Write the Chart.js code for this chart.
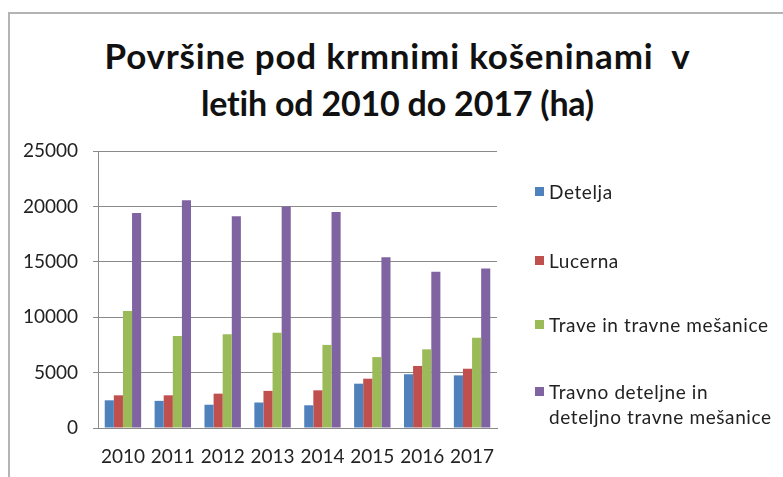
<!DOCTYPE html>
<html>
<head>
<meta charset="utf-8">
<script src="https://cdn.jsdelivr.net/npm/chart.js@4.4.1/dist/chart.umd.min.js"></script>
<style>
  html, body { margin: 0; padding: 0; background: #fff; }
  #wrap { position: relative; width: 783px; height: 477px; overflow: hidden; font-family: Lato, "Open Sans", sans-serif; font-variant-ligatures: none; }
  #frame { position: absolute; left: 8px; top: 12px; width: 800px; height: 500px; border-left: 2px solid #b4b4b4; border-top: 2px solid #b4b4b4; }
  .tl { position: absolute; left: 12px; right: 0; text-align: center; font-weight: bold; line-height: 50px; color: #111; white-space: pre; }
  #t1 { top: 30px; font-size: 35px; letter-spacing: 0.8px; }
  #t2 { top: 78px; font-size: 34px; letter-spacing: -0.2px; }
  #c { position: absolute; left: 0; top: 0; }
  #legend { position: absolute; left: 535px; top: 0; color: #222; font-size: 19px; letter-spacing: 0.6px; }
  .item { position: absolute; left: 0; white-space: pre; display: flex; align-items: flex-start; line-height: 25px; }
  .sw { width: 9px; height: 9px; margin-top: 8px; margin-right: 5px; flex: none; }
</style>
</head>
<body>
<div id="wrap">
  <div id="frame"></div>
  <div id="t1" class="tl"></div>
  <div id="t2" class="tl"></div>
  <canvas id="c" width="783" height="477"></canvas>
  <div id="legend"></div>
</div>
<script>
const titleLines = ["Površine pod krmnimi košeninami  v", "letih od 2010 do 2017 (ha)"];
const categories = ["2010", "2011", "2012", "2013", "2014", "2015", "2016", "2017"];
const seriesNames = ["Detelja", "Lucerna", "Trave in travne mešanice", "Travno deteljne in\ndeteljno travne mešanice"];
const detelja = [2500, 2450, 2100, 2300, 2050, 4000, 4850, 4750];
const lucerna = [2950, 2950, 3100, 3350, 3400, 4450, 5600, 5350];
const trave = [10550, 8300, 8450, 8600, 7500, 6400, 7100, 8150];
const travnoDeteljne = [19400, 20550, 19100, 20000, 19500, 15400, 14100, 14400];
const yTicks = [0, 5000, 10000, 15000, 20000, 25000];
const colors = ["#4F81BD", "#C0504D", "#9BBB59", "#8064A2"];
const legendTops = [179, 248, 312, 379];

document.getElementById('t1').textContent = titleLines[0];
document.getElementById('t2').textContent = titleLines[1];

const seriesData = [detelja, lucerna, trave, travnoDeteljne];
const lg = document.getElementById('legend');
seriesNames.forEach((n, i) => {
  const d = document.createElement('div');
  d.className = 'item';
  d.style.top = legendTops[i] + 'px';
  const s = document.createElement('span');
  s.className = 'sw';
  s.style.background = colors[i];
  const t = document.createElement('span');
  t.textContent = n;
  d.appendChild(s); d.appendChild(t);
  lg.appendChild(d);
});

new Chart(document.getElementById('c'), {
  type: 'bar',
  data: {
    labels: categories,
    datasets: seriesNames.map((n, i) => ({
      label: n,
      data: seriesData[i],
      backgroundColor: colors[i],
      borderWidth: 0,
      categoryPercentage: 0.73,
      barPercentage: 1.0
    }))
  },
  options: {
    responsive: false,
    animation: false,
    layout: { padding: { left: 0, right: 286, top: 151, bottom: 0 } },
    plugins: { legend: { display: false }, title: { display: false }, tooltip: { enabled: false } },
    scales: {
      x: {
        grid: { display: false, drawTicks: false },
        border: { display: true, color: '#8a8a8a', width: 1 },
        ticks: { color: '#222', font: { family: 'Lato', size: 19 }, padding: 17, maxRotation: 0, autoSkip: false },
        afterFit: s => { s.height = 49; }
      },
      y: {
        min: 0, max: 25000,
        afterBuildTicks: s => { s.ticks = yTicks.map(v => ({ value: v })); },
        grid: { color: '#8a8a8a', lineWidth: 1, tickLength: 5, drawTicks: true },
        border: { display: true, color: '#8a8a8a', width: 1 },
        ticks: { color: '#222', font: { family: 'Lato', size: 19 }, padding: 15, callback: v => String(v) },
        afterFit: s => { s.width = 98; }
      }
    }
  }
});
</script>
</body>
</html>
